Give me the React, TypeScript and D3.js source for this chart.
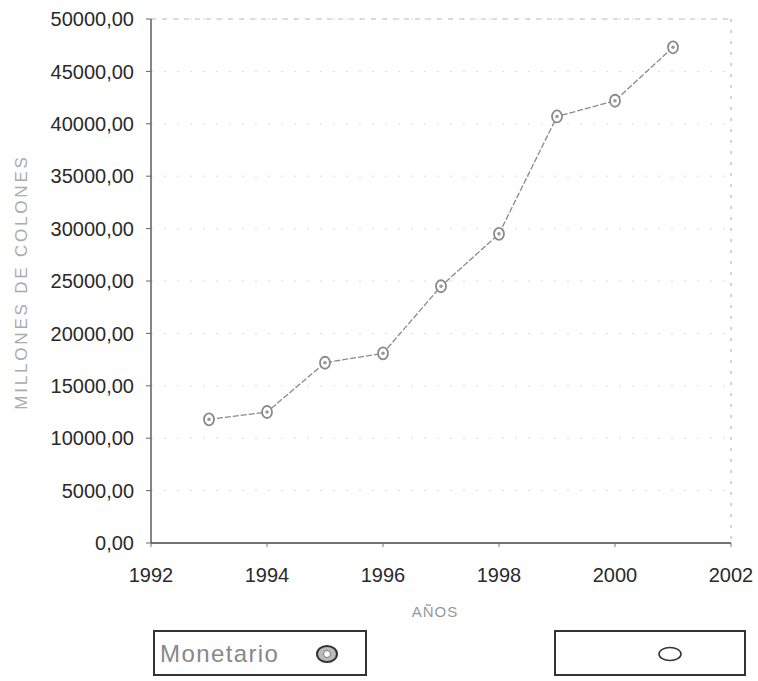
import React from "react";
import * as d3 from "d3";

const years = [1993, 1994, 1995, 1996, 1997, 1998, 1999, 2000, 2001];
const monetario = [11800, 12500, 17200, 18100, 24500, 29500, 40700, 42200, 47300];
const yTicks = [0, 5000, 10000, 15000, 20000, 25000, 30000, 35000, 40000, 45000, 50000];
const xTicks = [1992, 1994, 1996, 1998, 2000, 2002];
const seriesName = "Monetario";
const yTitle = "MILLONES DE COLONES";
const xTitle = "AÑOS";

const W = 758, H = 681;
const left = 151, right = 731, top = 19, bottom = 543;

const fmt = (v: number) => v.toFixed(2).replace(".", ",");

export default function App() {
  const x = d3.scaleLinear().domain([1992, 2002]).range([left, right]);
  const y = d3.scaleLinear().domain([0, 50000]).range([bottom, top]);
  const line = d3.line<number>().x((_, i) => x(years[i])).y((d) => y(d));
  const font = "Arial, 'Liberation Sans', sans-serif";
  return (
    <svg width={W} height={H} style={{ position: "absolute", left: 0, top: 0, background: "#fff" }}>
      <rect x={0} y={0} width={W} height={H} fill="#fff" />
      {/* faint gridlines */}
      {yTicks.slice(1).map((t) => (
        <line key={"g" + t} x1={left} x2={right} y1={y(t)} y2={y(t)} stroke="#dcdcdc" strokeWidth={1} strokeDasharray="2 11" />
      ))}
      {/* top + right border */}
      <line x1={left} x2={right} y1={top} y2={top} stroke="#bbb" strokeWidth={1} strokeDasharray="5 6" />
      <line x1={right} x2={right} y1={top} y2={bottom} stroke="#aaa" strokeWidth={1} strokeDasharray="3 8" />
      {/* axes */}
      <line x1={left} x2={left} y1={top} y2={bottom} stroke="#444" strokeWidth={1.3} />
      <line x1={left} x2={right} y1={bottom} y2={bottom} stroke="#444" strokeWidth={1.3} />
      {yTicks.map((t) => (
        <g key={"y" + t}>
          <line x1={left - 5} x2={left} y1={y(t)} y2={y(t)} stroke="#666" />
          <text x={134} y={y(t)} dy="0.36em" textAnchor="end" fontFamily={font} fontSize={20} fill="#2a2a2a">
            {fmt(t)}
          </text>
        </g>
      ))}
      {xTicks.map((t) => (
        <g key={"x" + t}>
          <line x1={x(t)} x2={x(t)} y1={bottom} y2={bottom + 4} stroke="#777" />
          <text x={x(t)} y={575} dy="0.36em" textAnchor="middle" fontFamily={font} fontSize={20} fill="#2a2a2a">
            {t}
          </text>
        </g>
      ))}
      {/* titles */}
      <text
        transform={`translate(21,${282}) rotate(-90)`}
        dy="0.36em"
        textAnchor="middle"
        fontFamily={font}
        fontSize={17}
        letterSpacing={2.8}
        fill="#ababab"
      >
        {yTitle}
      </text>
      <text x={435} y={612} dy="0.36em" textAnchor="middle" fontFamily={font} fontSize={15} letterSpacing={1} fill="#999">
        {xTitle}
      </text>
      {/* series */}
      <path d={line(monetario) || ""} fill="none" stroke="#8a8a8a" strokeWidth={1.3} strokeDasharray="6 2" />
      {monetario.map((v, i) => (
        <g key={"p" + i}>
          <ellipse cx={x(years[i])} cy={y(v)} rx={5} ry={6} fill="#fff" stroke="#8a8a8a" strokeWidth={1.8} />
          <circle cx={x(years[i])} cy={y(v)} r={1.8} fill="#999" />
        </g>
      ))}
      {/* legend */}
      <rect x={154} y={631} width={212} height={44} fill="none" stroke="#333" strokeWidth={2} />
      <text x={160} y={653} dy="0.36em" fontFamily={font} fontSize={24} fill="#888" letterSpacing={1.4}>
        {seriesName}
      </text>
      <ellipse cx={327} cy={654} rx={10} ry={8} fill="#bbb" stroke="#333" strokeWidth={2} />
      <circle cx={327} cy={654} r={3.5} fill="#fff" stroke="#777" />
      <rect x={555} y={631} width={190} height={44} fill="none" stroke="#333" strokeWidth={2} />
      <ellipse cx={670} cy={654} rx={11} ry={6.5} fill="#fff" stroke="#333" strokeWidth={1.6} />
    </svg>
  );
}
